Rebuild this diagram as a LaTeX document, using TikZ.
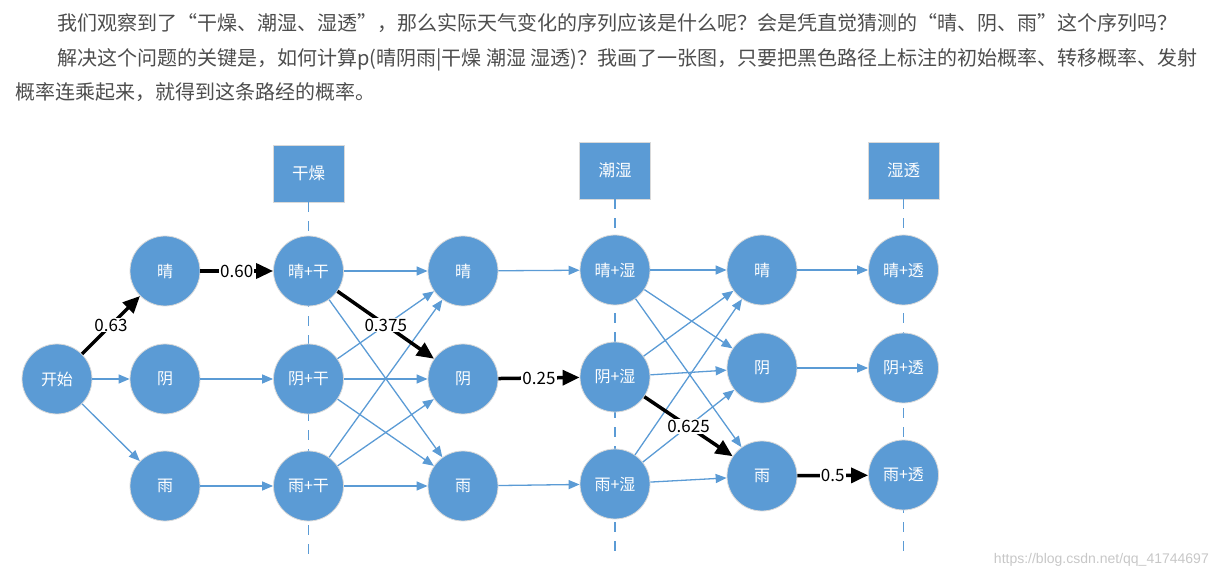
\documentclass[tikz,border=0pt]{standalone}
\usepackage{fontspec}
\setmainfont{Noto Sans CJK SC}
\newfontfamily\urlfont{Liberation Sans}
\usepackage{xcolor}
\usepackage{tikz}
\usetikzlibrary{arrows.meta,positioning}
\definecolor{hmmblue}{HTML}{5B9BD5}
\definecolor{bodytext}{HTML}{4D4D4D}

\begin{document}
\begin{tikzpicture}[
    x=1pt, y=-1pt,
    state/.style={circle, draw=black!15, line width=0.8pt, fill=hmmblue, minimum size=70pt, inner sep=0pt, text=white, font=\fontsize{16}{19}\selectfont},
    obs/.style  ={draw=black!15, line width=0.8pt, fill=hmmblue, minimum width=71pt, minimum height=57pt, inner sep=0pt, text=white, font=\fontsize{16.5}{19}\selectfont},
    trans/.style={draw=hmmblue, line width=1.3pt, -{Triangle[length=11pt,width=9pt]}},
    best/.style ={draw=black, line width=3.5pt, -{Triangle[length=17pt,width=15pt]}},
    prob/.style ={fill=white, inner sep=1pt, font=\fontsize{17}{20}\selectfont},
    guide/.style={draw=hmmblue, line width=1.5pt, dash pattern=on 10pt off 9pt},
    partext/.style={anchor=base west, inner sep=0pt, text=bodytext, font=\fontsize{20}{24}\selectfont}
]
\useasboundingbox (0,0) rectangle (1219,577);

% Paragraph above the figure
\node[partext] (par1) at (57,31) {我们观察到了“干燥、潮湿、湿透”，那么实际天气变化的序列应该是什么呢？会是凭直觉猜测的“晴、阴、雨”这个序列吗？};
\node[partext] (par2) at (57,66) {解决这个问题的关键是，如何计算p(晴阴雨|干燥 潮湿 湿透)？我画了一张图，只要把黑色路径上标注的初始概率、转移概率、发射};
\node[partext] (par3) at (15,100) {概率连乘起来，就得到这条路经的概率。};

% Observation boxes with their dashed guide lines
\node[obs] (obs1) at (308.5,173.5) {干燥};
\node[obs] (obs2) at (615,170.5) {潮湿};
\node[obs] (obs3) at (903.5,170.5) {湿透};
\coordinate (obs1end) at (308.5,556);
\coordinate (obs2end) at (615,556);
\coordinate (obs3end) at (903.5,556);
\draw[guide] (obs1) -- (obs1end);
\draw[guide] (obs2) -- (obs2end);
\draw[guide] (obs3) -- (obs3end);

% Start node and first hidden states
\node[state] (start) at (57,379) {开始};
\node[state] (sun1) at (165,271) {晴};
\node[state] (cld1) at (165,379) {阴};
\node[state] (rain1) at (165,486) {雨};

% States joined with 干燥
\node[state] (sun1x) at (308.5,271) {晴+干};
\node[state] (cld1x) at (308.5,379) {阴+干};
\node[state] (rain1x) at (308.5,486) {雨+干};

% Second hidden states
\node[state] (sun2) at (463,271) {晴};
\node[state] (cld2) at (463,379) {阴};
\node[state] (rain2) at (463,486) {雨};

% States joined with 潮湿
\node[state] (sun2x) at (615,270) {晴+湿};
\node[state] (cld2x) at (615,377) {阴+湿};
\node[state] (rain2x) at (615,484) {雨+湿};

% Third hidden states
\node[state] (sun3) at (762,270) {晴};
\node[state] (cld3) at (762,368) {阴};
\node[state] (rain3) at (762,476) {雨};

% States joined with 湿透
\node[state] (sun3x) at (903.5,270) {晴+透};
\node[state] (cld3x) at (903.5,368) {阴+透};
\node[state] (rain3x) at (903.5,475) {雨+透};

% Blue transitions
\draw[trans] (start) -- (cld1);
\draw[trans] (start) -- (rain1);
\draw[trans] (cld1) -- (cld1x);
\draw[trans] (rain1) -- (rain1x);

\draw[trans] (sun1x) -- (sun2);
\draw[trans] (sun1x) -- (rain2);
\draw[trans] (cld1x) -- (sun2);
\draw[trans] (cld1x) -- (cld2);
\draw[trans] (cld1x) -- (rain2);
\draw[trans] (rain1x) -- (sun2);
\draw[trans] (rain1x) -- (cld2);
\draw[trans] (rain1x) -- (rain2);

\draw[trans] (sun2) -- (sun2x);
\draw[trans] (rain2) -- (rain2x);

\draw[trans] (sun2x) -- (sun3);
\draw[trans] (sun2x) -- (cld3);
\draw[trans] (sun2x) -- (rain3);
\draw[trans] (cld2x) -- (sun3);
\draw[trans] (cld2x) -- (cld3);
\draw[trans] (rain2x) -- (sun3);
\draw[trans] (rain2x) -- (cld3);
\draw[trans] (rain2x) -- (rain3);

\draw[trans] (sun3) -- (sun3x);
\draw[trans] (cld3) -- (cld3x);

% Black path: start -> 晴 -> 阴 -> 雨
\draw[best] (start) -- node[prob] {0.63} (sun1);
\draw[best] (sun1) -- node[prob] {0.60} (sun1x);
\draw[best] (sun1x) -- node[prob] {0.375} (cld2);
\draw[best] (cld2) -- node[prob] {0.25} (cld2x);
\draw[best] (cld2x) -- node[prob] {0.625} (rain3);
\draw[best] (rain3) -- node[prob] {0.5} (rain3x);

% Watermark
\node[anchor=base east, inner sep=0pt, text=black!22, font=\urlfont\fontsize{14}{16}\selectfont] (mark) at (1209,563) {https://blog.csdn.net/qq\_41744697};
\end{tikzpicture}
\end{document}
